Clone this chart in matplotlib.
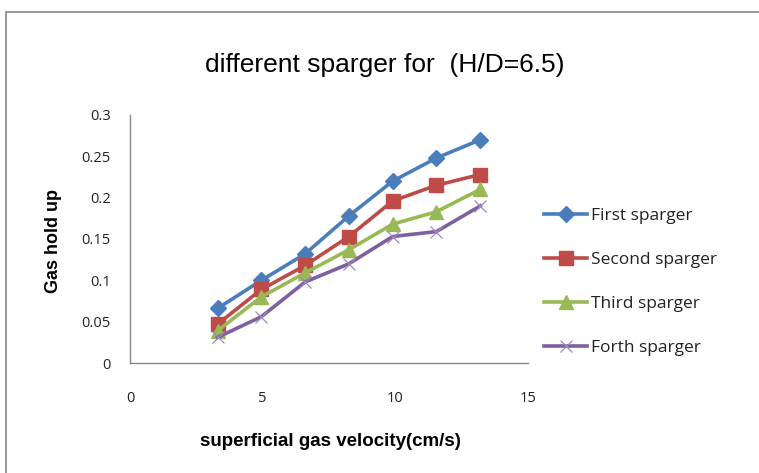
import matplotlib
matplotlib.use("Agg")
import matplotlib.pyplot as plt
from matplotlib.patches import Rectangle

velocity = [3.3, 4.95, 6.6, 8.25, 9.9, 11.55, 13.2]
first_sparger = [0.066, 0.100, 0.132, 0.178, 0.220, 0.248, 0.270]
second_sparger = [0.047, 0.089, 0.118, 0.153, 0.196, 0.215, 0.228]
third_sparger = [0.039, 0.080, 0.109, 0.137, 0.168, 0.183, 0.210]
forth_sparger = [0.031, 0.056, 0.098, 0.120, 0.153, 0.159, 0.190]
series_names = ["First sparger", "Second sparger", "Third sparger", "Forth sparger"]
x_ticks = [0, 5, 10, 15]
y_ticks = [0, 0.05, 0.1, 0.15, 0.2, 0.25, 0.3]
y_tick_labels = ["0", "0.05", "0.1", "0.15", "0.2", "0.25", "0.3"]

narrow = ["Liberation Sans Narrow", "Liberation Sans", "DejaVu Sans"]
body = ["Open Sans", "DejaVu Sans"]

fig = plt.figure(figsize=(7.59, 4.73), dpi=100)
fig.patch.set_facecolor("white")

# chart frame
fig.patches.append(Rectangle((6 / 759, -0.1), 1.2, (473 - 12) / 473 + 0.1,
                             transform=fig.transFigure, fill=False,
                             edgecolor="#868686", linewidth=1.2))

ax = fig.add_axes([130 / 759, 110 / 473, 398 / 759, 248 / 473])

styles = [
    dict(color="#4A7EBB", marker="D", markersize=8.5),
    dict(color="#BE4B48", marker="s", markersize=10.5),
    dict(color="#98B954", marker="^", markersize=10),
    dict(color="#7D60A0", marker="x", markersize=8.5, markeredgewidth=0.9,
         markeredgecolor="#9D88C0"),
]
data = [first_sparger, second_sparger, third_sparger, forth_sparger]
handles = []
for name, vals, st in zip(series_names, data, styles):
    h, = ax.plot(velocity, vals, linewidth=2.6, label=name, **st)
    handles.append(h)

ax.set_xlim(0, 15)
ax.set_ylim(0, 0.3)
ax.set_xticks(x_ticks)
ax.set_yticks(y_ticks)
ax.set_yticklabels(y_tick_labels)
for s in ["top", "right"]:
    ax.spines[s].set_visible(False)
for s in ["left", "bottom"]:
    ax.spines[s].set_color("#868686")
    ax.spines[s].set_linewidth(1.0)
ax.tick_params(axis="both", length=0, labelsize=10.5, colors="#222222")
ax.tick_params(axis="x", pad=20)
ax.tick_params(axis="y", pad=14)
for lab in ax.get_xticklabels() + ax.get_yticklabels():
    lab.set_family(body)

ax.set_xlabel("superficial gas velocity(cm/s)", family=narrow, fontsize=13.5,
              fontweight="bold", labelpad=0)
ax.xaxis.set_label_coords(0.5025, -0.283)
ax.set_ylabel("Gas hold up", family=narrow, fontsize=13, fontweight="bold")
ax.yaxis.set_label_coords(-0.171, 0.49)

fig.text(385 / 759, 1 - 65 / 473, "different sparger for  (H/D=6.5)",
         family=narrow, fontsize=19, ha="center", va="center")

leg = ax.legend(handles=handles, loc="upper left",
                bbox_to_anchor=(537 / 759, 1 - 201 / 473),
                bbox_transform=fig.transFigure, frameon=False,
                prop={"family": body, "size": 12.5}, handlelength=2.5,
                handletextpad=0.2, labelspacing=1.6, borderaxespad=0)
for t in leg.get_texts():
    t.set_color("#222222")

fig.savefig("out.png", dpi=100, facecolor="white")
